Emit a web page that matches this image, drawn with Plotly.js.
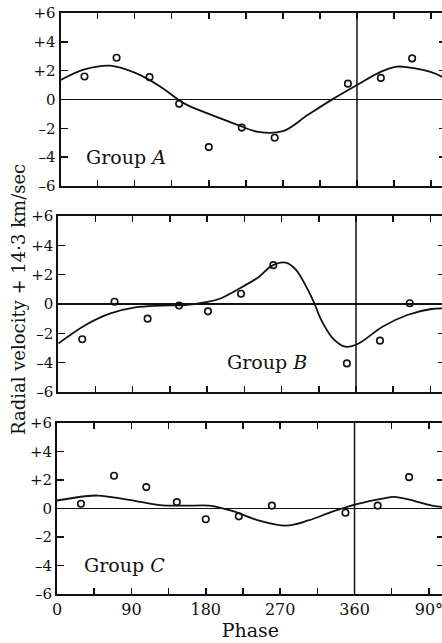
<!DOCTYPE html>
<html>
<head>
<meta charset="utf-8">
<script src="https://cdn.plot.ly/plotly-3.0.1.min.js"></script>
<style>
html,body{margin:0;padding:0;overflow:hidden;background:#fff;}
#chart{width:450px;height:643px;}
</style>
</head>
<body>
<div id="chart"></div>
<script>
// ---- Data ----
// Observed points (phase in degrees, velocity residual in km/sec)
const phaseA = [29, 68, 108, 144, 180, 220, 260, 349, 389, 427];
const velA   = [1.6, 2.9, 1.55, -0.3, -3.3, -1.95, -2.65, 1.1, 1.5, 2.85];
const phaseB = [29, 68, 108, 146, 181, 221, 260, 349, 389, 425];
const velB   = [-2.4, 0.15, -1.0, -0.1, -0.5, 0.7, 2.65, -4.05, -2.5, 0.05];
const phaseC = [29, 69, 108, 145, 180, 220, 260, 349, 388, 426];
const velC   = [0.33, 2.3, 1.5, 0.45, -0.75, -0.55, 0.2, -0.3, 0.2, 2.2];

// Fitted curves
const curvePhaseA = [0, 30, 60, 90, 120, 150, 180, 210, 240, 270, 300, 330, 360, 390, 409, 420, 450, 468];
const curveVelA   = [1.35, 2.1, 2.35, 1.86, 0.94, -0.27, -1.0, -1.65, -2.25, -2.2, -1.08, 0.01, 1.0, 1.95, 2.28, 2.24, 1.9, 1.45];
const curvePhaseB = [0, 33, 63, 93, 123, 153, 182, 197, 212, 242, 258, 275, 287, 302, 310, 317, 332, 347, 362, 392, 422, 451, 468];
const curveVelB   = [-2.7, -1.43, -0.64, -0.23, -0.11, -0.07, 0.16, 0.39, 0.84, 1.82, 2.6, 2.82, 2.36, 0.95, 0.0, -0.98, -2.34, -2.91, -2.73, -1.55, -0.75, -0.34, -0.3];
const curvePhaseC = [0, 34, 49, 64, 94, 124, 154, 184, 198, 214, 244, 277, 304, 334, 364, 394, 408, 424, 454, 468];
const curveVelC   = [0.56, 0.86, 0.91, 0.82, 0.54, 0.24, 0.2, 0.2, 0.05, -0.2, -0.84, -1.2, -0.84, -0.2, 0.33, 0.7, 0.82, 0.65, 0.2, 0.1];

// Axis ticks / labels
const xTickVals = [0, 45, 90, 135, 180, 225, 270, 315, 360, 405, 450];
const xTickText = ['0', '', '90', '', '180', '', '270', '', '360', '', '90°'];
const yTickVals = [-6, -4, -2, 0, 2, 4, 6];
const yTickText = ['–6', '–4', '–2', '0', '+2', '+4', '+6'];
const cycleEnd = [360];
const groupNames = ['Group <i>A</i>', 'Group <i>B</i>', 'Group <i>C</i>'];
const groupLabelPos = [[80, -4.0], [252, -3.95], [82, -3.93]];
const yTitle = 'Radial velocity + 14·3 km/sec';
const xTitle = 'Phase';

// ---- Styling ----
const W = 450, H = 643;
const FONT = 'DejaVu Serif, Liberation Serif, serif';
const ink = '#111';

function px(v) { return v / W; }
function py(v) { return 1 - v / H; }

const panels = [
  {xs: '', ph: phaseA, v: velA, cp: curvePhaseA, cv: curveVelA, xd: [px(60.6), px(445.9)], yd: [py(186), py(13)]},
  {xs: '2', ph: phaseB, v: velB, cp: curvePhaseB, cv: curveVelB, xd: [px(58.3), px(445.3)], yd: [py(392), py(216)]},
  {xs: '3', ph: phaseC, v: velC, cp: curvePhaseC, cv: curveVelC, xd: [px(57.0), px(443.8)], yd: [py(594), py(423)]}
];

const traces = [];
const layout = {
  width: W, height: H,
  margin: {l: 0, r: 0, t: 0, b: 0},
  paper_bgcolor: '#fff', plot_bgcolor: '#fff',
  showlegend: false,
  font: {family: FONT, color: ink, size: 15},
  shapes: [], annotations: []
};

panels.forEach((p, i) => {
  const xa = 'x' + p.xs, ya = 'y' + p.xs;
  traces.push({
    x: p.cp, y: p.cv, xaxis: xa, yaxis: ya, type: 'scatter', mode: 'lines',
    line: {color: ink, width: 1.8, shape: 'spline', smoothing: 1}, hoverinfo: 'skip'
  });
  traces.push({
    x: p.ph, y: p.v, xaxis: xa, yaxis: ya, type: 'scatter', mode: 'markers',
    marker: {symbol: 'circle-open', size: 6.5, color: ink, line: {width: 1.6, color: ink}}, hoverinfo: 'skip'
  });
  const isBottom = i === 2;
  layout['xaxis' + p.xs] = {
    domain: p.xd, anchor: ya, range: [0, 468],
    tickmode: 'array', tickvals: xTickVals, ticktext: xTickText,
    showticklabels: isBottom, ticks: 'inside', ticklen: 6, tickwidth: 1.5, tickcolor: ink,
    showline: true, linewidth: 2, linecolor: ink, mirror: 'ticks',
    showgrid: false, zeroline: false,
    tickfont: {family: FONT, size: 16, color: ink},
    title: isBottom ? {text: xTitle, font: {family: FONT, size: 19, color: ink}, standoff: 5} : {text: ''}
  };
  layout['yaxis' + p.xs] = {
    domain: p.yd, anchor: xa, range: [-6, 6],
    tickmode: 'array', tickvals: yTickVals, ticktext: yTickText,
    ticks: 'inside', ticklen: 7, tickwidth: 1.5, tickcolor: ink,
    showline: true, linewidth: 2, linecolor: ink, mirror: 'ticks',
    showgrid: false, zeroline: true, zerolinecolor: ink, zerolinewidth: 1.3,
    tickfont: {family: FONT, size: 15, color: ink}
  };
  cycleEnd.forEach(c => {
    layout.shapes.push({
      type: 'line', xref: xa, yref: ya + ' domain', x0: c, x1: c, y0: 0, y1: 1,
      line: {color: ink, width: 1.5}
    });
  });
  layout.annotations.push({
    xref: xa, yref: ya, x: groupLabelPos[i][0], y: groupLabelPos[i][1],
    text: groupNames[i], showarrow: false, xanchor: 'center', yanchor: 'middle',
    font: {family: FONT, size: 19, color: ink}
  });
});

layout.annotations.push({
  xref: 'paper', yref: 'paper', x: px(18), y: py(300),
  text: yTitle, textangle: -90, showarrow: false, xanchor: 'center', yanchor: 'middle',
  font: {family: FONT, size: 18, color: ink}
});

Plotly.newPlot('chart', traces, layout, {displayModeBar: false, staticPlot: true});
</script>
</body>
</html>
